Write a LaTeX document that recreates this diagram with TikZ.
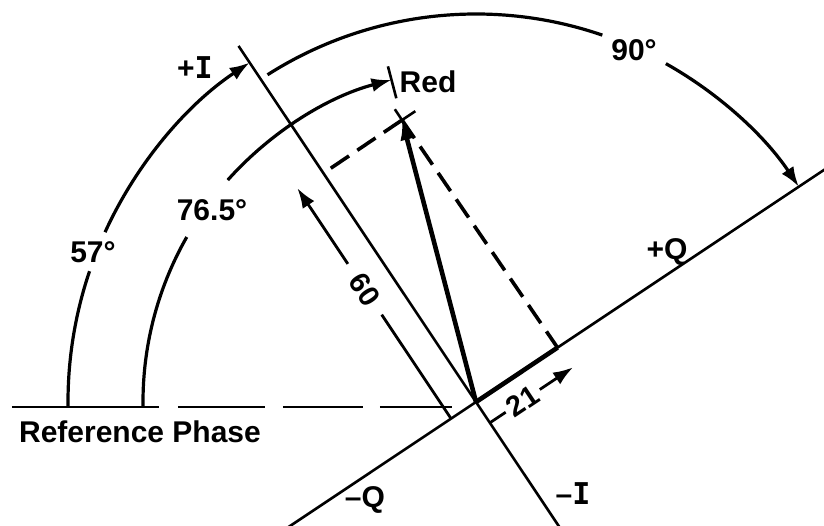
\documentclass[tikz,border=0pt]{standalone}
\usepackage{fontspec}
\setmainfont{Liberation Sans}
\newfontfamily\serifI{DejaVu Sans Mono}
\usetikzlibrary{arrows.meta,calc}
\begin{document}
\begin{tikzpicture}[x=1pt,y=1pt,
  axis/.style={line width=2.6pt},
  heavy/.style={line width=4.6pt},
  arcline/.style={line width=3.2pt},
  dimline/.style={line width=2.8pt},
  dashln/.style={line width=3.6pt, dash pattern=on 22pt off 10pt},
  arrowend/.style={-{Latex[length=20pt,width=14pt]}},
  lbl/.style={font=\bfseries\fontsize{30}{32}\selectfont, inner sep=0pt},
  dimlbl/.style={font=\bfseries\fontsize{29}{31}\selectfont, inner sep=0pt}
]
\def\aI{123.7}
\def\aIm{303.7}
\def\aQ{33.7}
\def\aQm{213.7}
\def\aR{104.7}
\useasboundingbox (-476,-124) rectangle (348,402);

% key points
\coordinate (O) at (0,0);
\coordinate (Itop) at (\aI:428);
\coordinate (Ibot) at (\aIm:160);
\coordinate (Qtop) at (\aQ:425);
\coordinate (Qbot) at (\aQm:235);
\coordinate (X) at (\aR:291.5);
\coordinate (Ip) at (\aI:275);
\coordinate (Qp) at (\aQ:98);

% axes
\draw[axis] (Itop) -- (Ibot);
\draw[axis] (Qbot) -- (Qtop);

% reference phase (dashed, drawn as segments)
\coordinate (R1a) at (-464,-5); \coordinate (R1b) at (-317,-5);
\coordinate (R2a) at (-298,-5); \coordinate (R2b) at (-211,-5);
\coordinate (R3a) at (-193,-5); \coordinate (R3b) at (-113,-5);
\coordinate (R4a) at (-96,-5);  \coordinate (R4b) at (-24,-5);
\draw[axis] (R1a) -- (R1b);
\draw[axis] (R2a) -- (R2b);
\draw[axis] (R3a) -- (R3b);
\draw[axis] (R4a) -- (R4b);

% components
\draw[heavy] (O) -- (Qp);
\draw[dashln] (X) -- (Ip);
\draw[dashln] (X) -- (Qp);
\draw[heavy, arrowend] (O) -- (X);

% cross at the tip
\coordinate (Xa) at ($(X)+(\aI:13)$);
\coordinate (Xb) at ($(X)+(\aIm:13)$);
\coordinate (Xc) at ($(X)+(\aQ:16)$);
\coordinate (Xd) at ($(X)+(\aQm:16)$);
\draw[axis] (Xa) -- (Xb);
\draw[axis] (Xc) -- (Xd);

% Red tick
\coordinate (Ta) at (\aR:314);
\coordinate (Tb) at (\aR:347);
\draw[axis] (Ta) -- (Tb);

% angle arcs
\draw[arcline] (180.7:408) arc[start angle=180.7, end angle=161.3, radius=408];
\draw[arcline, arrowend] (155.4:408) arc[start angle=155.4, end angle=\aI, radius=408];
\draw[arcline] (180.9:333) arc[start angle=180.9, end angle=150.3, radius=333];
\draw[arcline, arrowend] (138.2:333) arc[start angle=138.2, end angle=\aR, radius=333];
\draw[arcline] (122.5:388) arc[start angle=122.5, end angle=71, radius=388];
\draw[arcline, arrowend] (60.7:388) arc[start angle=60.7, end angle=\aQ, radius=388];

% dimension 60 (parallel to I)
\coordinate (Sa) at ($(\aQm:30)$);
\coordinate (Sb) at ($(\aQm:30)+(\aI:125)$);
\coordinate (Sc) at ($(\aQm:30)+(\aI:186)$);
\coordinate (Sd) at ($(\aQm:30)+(\aI:277)$);
\draw[dimline] (Sa) -- (Sb);
\draw[dimline, arrowend] (Sc) -- (Sd);
\node[dimlbl, rotate=-56.3] (l60) at ($(\aQm:30)+(\aI:155)$) {60};

% dimension 21 (parallel to Q)
\coordinate (Ua) at ($(\aIm:25)$);
\coordinate (Ub) at ($(\aIm:25)+(\aQ:19)$);
\coordinate (Uc) at ($(\aIm:25)+(\aQ:60)$);
\coordinate (Ud) at ($(\aIm:25)+(\aQ:100)$);
\draw[dimline] (Ua) -- (Ub);
\draw[dimline, arrowend] (Uc) -- (Ud);
\node[dimlbl, rotate=33.7] (l21) at ($(\aIm:25)+(\aQ:39.5)$) {21};

% labels
\node[lbl] (lpI) at (-281,334) {+\serifI I};
\node[lbl] (lred) at (-48,320) {Red};
\node[lbl] (l90) at (158,352) {90°};
\node[lbl] (l765) at (-264,192) {76.5°};
\node[lbl] (l57) at (-383,150) {57°};
\node[lbl] (lpQ) at (191,150) {+Q};
\node[lbl] (lref) at (-336,-30) {Reference Phase};
\node[lbl] (lmQ) at (-111,-98) {–Q};
\node[lbl] (lmI) at (97,-92) {–\serifI I};
\end{tikzpicture}
\end{document}
